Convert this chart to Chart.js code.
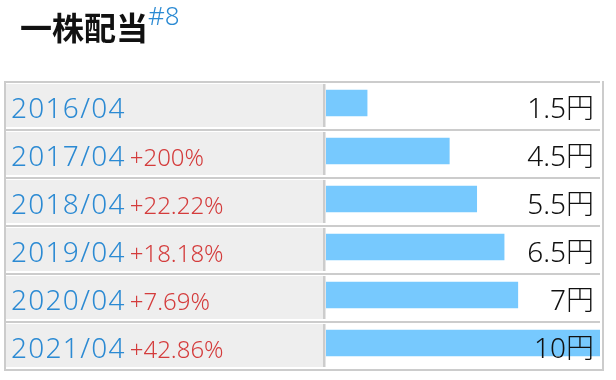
<!DOCTYPE html>
<html lang="ja">
<head>
<meta charset="utf-8">
<title>一株配当</title>
<script src="https://cdn.jsdelivr.net/npm/chart.js@4.4.1/dist/chart.umd.min.js"></script>
<style>
  html, body { margin: 0; background: #fff; }
  #wrap { position: relative; width: 616px; height: 380px; overflow: hidden; }
  canvas { position: absolute; left: 0; top: 0; }
  #title {
    position: absolute; left: 20px; top: 3px; margin: 0;
    font: bold 32px/46px "Noto Sans CJK JP", sans-serif; color: #111;
    white-space: nowrap;
  }
  #note {
    position: absolute; left: 148px; top: -2px;
    font: 300 26px/34px "Noto Sans", sans-serif; color: #2b8ad3;
  }
</style>
</head>
<body>
<div id="wrap">
  <canvas id="divChart" width="616" height="380"></canvas>
  <div id="title">一株配当</div>
  <div id="note">#8</div>
</div>
<script>
// dividend per share, by fiscal period
const periods = ["2016/04", "2017/04", "2018/04", "2019/04", "2020/04", "2021/04"];
const dividends = [1.5, 4.5, 5.5, 6.5, 7, 10];
const growth = ["", "+200%", "+22.22%", "+18.18%", "+7.69%", "+42.86%"];
const xMax = 10;

const BLUE = "#2b8ad3", RED = "#d43c3c", BAR = "#77c9fe";

// draws the table rows behind the bars and the texts on top
const tablePlugin = {
  id: "table",
  beforeDatasetsDraw(chart) {
    const { ctx, chartArea, scales: { y } } = chart;
    const rowH = (y.bottom - y.top) / periods.length;
    const left = chartArea.left;
    ctx.save();
    let first = 0, last = 0;
    periods.forEach((p, i) => {
      const top = Math.round(y.getPixelForValue(i) - rowH / 2 + 2);
      if (i === 0) first = top;
      last = top + rowH;
      ctx.fillStyle = "#ccc";
      ctx.fillRect(4, top, chartArea.right - 4, 2);
      ctx.fillStyle = "#eee";
      ctx.fillRect(6, top + 3, left - 9, 43);
      ctx.fillStyle = "#ccc";
      ctx.fillRect(left - 3, top + 3, 2.5, 43);
    });
    // outer border
    ctx.fillStyle = "#ccc";
    ctx.fillRect(4, last, chartArea.right, 2);
    ctx.fillRect(4, first, 2, last + 2 - first);
    ctx.fillRect(chartArea.right + 2, first, 2, last + 2 - first);
    ctx.restore();
  },
  afterDatasetsDraw(chart) {
    const { ctx, chartArea, scales: { y } } = chart;
    const rowH = (y.bottom - y.top) / periods.length;
    ctx.save();
    ctx.textBaseline = "alphabetic";
    periods.forEach((p, i) => {
      const base = Math.round(y.getPixelForValue(i) - rowH / 2 + 2) + 37;
      ctx.textAlign = "left";
      ctx.font = '300 28px "Noto Sans"';
      ctx.letterSpacing = "1.3px";
      ctx.fillStyle = BLUE;
      ctx.fillText(p, 11, base);
      const w = ctx.measureText(p).width;
      ctx.letterSpacing = "0px";
      if (growth[i]) {
        ctx.font = '300 24px "Noto Sans"';
        ctx.fillStyle = RED;
        ctx.fillText(growth[i], 11 + w + 4, base);
      }
      ctx.textAlign = "right";
      ctx.font = '300 28px "Noto Sans", "Noto Sans CJK JP"';
      ctx.fillStyle = "#111";
      ctx.fillText(dividends[i] + "円", chartArea.right - 6, base);
    });
    ctx.restore();
  }
};

new Chart(document.getElementById("divChart"), {
  type: "bar",
  data: {
    labels: periods,
    datasets: [{
      data: dividends,
      backgroundColor: BAR,
      borderWidth: 0,
      barThickness: 26
    }]
  },
  options: {
    indexAxis: "y",
    responsive: false,
    animation: false,
    devicePixelRatio: 1,
    layout: { padding: { left: 326, right: 16, top: 79, bottom: 13 } },
    plugins: {
      legend: { display: false },
      tooltip: { enabled: false }
    },
    scales: {
      x: { display: false, min: 0, max: xMax },
      y: { display: false }
    }
  },
  plugins: [tablePlugin]
});
</script>
</body>
</html>
